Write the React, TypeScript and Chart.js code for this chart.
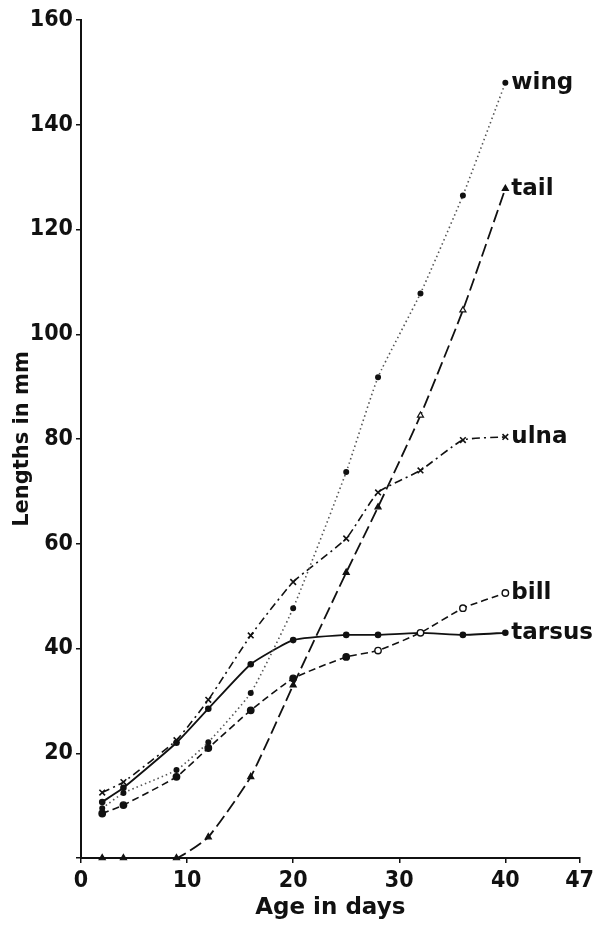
import React, { useEffect, useRef } from "react";
import { Chart, registerables } from "chart.js";

Chart.register(...registerables);

const days = [2, 4, 9, 12, 16, 20, 25, 28, 32, 36, 40];
const wing = [9.5, 12.4, 16.8, 22.1, 31.5, 47.7, 73.7, 91.8, 107.8, 126.5, 148];
const tail = [0, 0, 0, 4, 15.5, 33, 54.5, 67, 84.5, 104.6, 127.8];
const ulna = [12.5, 14.5, 22.5, 30.2, 42.5, 52.7, 61, 69.8, 74, 79.8, 80.4];
const bill = [8.5, 10.1, 15.5, 21, 28.2, 34.3, 38.4, 39.6, 43, 47.7, 50.6];
const tarsus = [10.7, 13.4, 22, 28.5, 37, 41.6, 42.6, 42.6, 43, 42.6, 43];
const xTicks = [0, 10, 20, 30, 40, 47];
const seriesNames = ["wing", "tail", "ulna", "bill", "tarsus"];

const FONT = "'DejaVu Sans Condensed', 'DejaVu Sans', sans-serif";
const LFONT = "'DejaVu Sans', sans-serif";

const endLabels = {
  id: "endLabels",
  afterDatasetsDraw(chart: any) {
    const ctx = chart.ctx;
    ctx.save();
    ctx.font = `bold 23px ${LFONT}`;
    ctx.fillStyle = "#111";
    ctx.textBaseline = "middle";
    ctx.textAlign = "left";
    chart.data.datasets.forEach((ds: any, i: number) => {
      const meta = chart.getDatasetMeta(i);
      const pt = meta.data[meta.data.length - 1];
      if (pt) ctx.fillText(ds.label, pt.x + 6, pt.y);
    });
    ctx.restore();
  },
};

export default function App() {
  const ref = useRef<HTMLCanvasElement>(null);
  useEffect(() => {
    if (!ref.current) return;
    const toPts = (arr: number[]) => arr.map((v, i) => ({ x: days[i], y: v }));
    const black = "#111";
    const common = { tension: 0.15, clip: false };
    const chart = new Chart(ref.current, {
      type: "line",
      data: {
        datasets: [
          {
            label: seriesNames[0],
            data: toPts(wing),
            borderColor: "#555",
            borderWidth: 1.6,
            borderDash: [1.5, 3],
            pointStyle: "circle",
            pointRadius: 2.2,
            pointBackgroundColor: black,
            pointBorderColor: black,
            ...common,
          },
          {
            label: seriesNames[1],
            data: toPts(tail),
            borderColor: black,
            borderWidth: 1.8,
            borderDash: [13, 5],
            pointStyle: "triangle",
            pointRadius: 3.5,
            pointBackgroundColor: days.map((d) => (d === 32 || d === 36 ? "#fff" : black)),
            pointBorderColor: black,
            pointBorderWidth: 1.2,
            ...common,
          },
          {
            label: seriesNames[2],
            data: toPts(ulna),
            borderColor: black,
            borderWidth: 1.6,
            borderDash: [8, 4, 2, 4],
            pointStyle: "crossRot",
            pointRadius: 4,
            pointBorderColor: black,
            pointBorderWidth: 1.6,
            ...common,
          },
          {
            label: seriesNames[3],
            data: toPts(bill),
            borderColor: black,
            borderWidth: 1.6,
            borderDash: [7, 4],
            pointStyle: "circle",
            pointRadius: 3.2,
            pointBackgroundColor: days.map((d) => (d >= 28 ? "#fff" : black)),
            pointBorderColor: black,
            pointBorderWidth: 1.4,
            ...common,
          },
          {
            label: seriesNames[4],
            data: toPts(tarsus),
            borderColor: black,
            borderWidth: 1.8,
            pointStyle: "circle",
            pointRadius: 2.4,
            pointBackgroundColor: black,
            pointBorderColor: black,
            ...common,
          },
        ],
      },
      options: {
        animation: false,
        responsive: true,
        maintainAspectRatio: false,
        layout: { padding: { top: 20, right: 17, left: 0, bottom: 0 } },
        plugins: {
          legend: { display: false },
          tooltip: { enabled: false },
        },
        scales: {
          x: {
            type: "linear",
            min: 0,
            max: 47,
            afterBuildTicks: (scale: any) => {
              scale.ticks = xTicks.map((v) => ({ value: v }));
            },
            afterFit: (scale: any) => {
              scale.height = 69;
            },
            grid: { display: true, drawOnChartArea: false, tickLength: 5, color: black, lineWidth: 1.5 },
            border: { display: true, color: black, width: 2 },
            ticks: {
              color: black,
              font: { family: FONT, size: 23, weight: "bold" },
              padding: 4,
              maxRotation: 0,
              autoSkip: false,
              callback: (v: any) => String(v),
            },
            title: {
              display: true,
              text: "Age in days",
              color: black,
              font: { family: LFONT, size: 23, weight: "bold" },
              padding: { top: 0, bottom: 5 },
            },
          },
          y: {
            type: "linear",
            min: 0,
            max: 160,
            afterFit: (scale: any) => {
              scale.width = 81;
            },
            grid: { display: true, drawOnChartArea: false, tickLength: 5, color: black, lineWidth: 1.5 },
            border: { display: true, color: black, width: 2 },
            ticks: {
              stepSize: 20,
              color: black,
              font: { family: FONT, size: 23, weight: "bold" },
              padding: 3,
              callback: (v: any) => (v === 0 ? "" : String(v)),
            },
            title: {
              display: true,
              text: "Lengths in mm",
              color: black,
              font: { family: LFONT, size: 21, weight: "bold" },
              padding: { top: 10, bottom: 0 },
            },
          },
        },
      },
      plugins: [endLabels],
    } as any);
    return () => chart.destroy();
  }, []);
  return (
    <div style={{ position: "fixed", left: 0, top: 0, width: 598, height: 927, background: "#fff" }}>
      <canvas ref={ref} />
    </div>
  );
}
